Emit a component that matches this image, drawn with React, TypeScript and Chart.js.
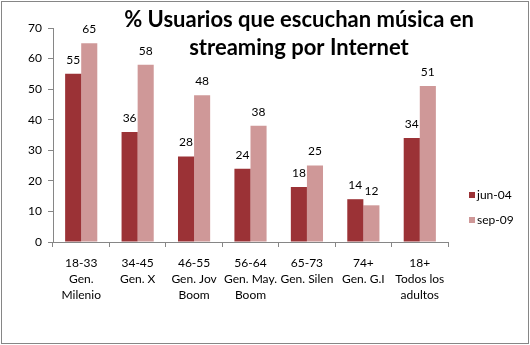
import React, { useEffect, useRef } from "react";
import { Chart, registerables } from "chart.js";

Chart.register(...registerables);

const categories: string[][] = [
  ["18-33", "Gen.", "Milenio"],
  ["34-45", "Gen. X"],
  ["46-55", "Gen. Jov", "Boom"],
  ["56-64", "Gen. May.", "Boom"],
  ["65-73", "Gen. Silen"],
  ["74+", "Gen. G.I"],
  ["18+", "Todos los", "adultos"],
];
const seriesNames = ["jun-04", "sep-09"];
const jun04 = [55, 36, 28, 24, 18, 14, 34];
const sep09 = [65, 58, 48, 38, 25, 12, 51];
const seriesColors = ["#9B3236", "#CF9898"];
const titleLines = ["% Usuarios que escuchan música en", "streaming por Internet"];
const yMin = 0;
const yMax = 70;
const yStep = 10;

const FONT = "Lato, 'Open Sans', sans-serif";

const valueLabels = {
  id: "valueLabels",
  afterDatasetsDraw(chart: any) {
    const ctx = chart.ctx;
    ctx.save();
    ctx.font = `12px ${FONT}`;
    ctx.fillStyle = "#000";
    ctx.textAlign = "center";
    ctx.textBaseline = "middle";
    chart.data.datasets.forEach((ds: any, i: number) => {
      const meta = chart.getDatasetMeta(i);
      meta.data.forEach((bar: any, j: number) => {
        ctx.fillText(String(ds.data[j]), bar.x, bar.y - 14);
      });
    });
    ctx.restore();
  },
};

const decorations = {
  id: "decorations",
  beforeDraw(chart: any) {
    const ctx = chart.ctx;
    ctx.save();
    ctx.fillStyle = "#fff";
    ctx.fillRect(0, 0, chart.width, chart.height);
    ctx.restore();
  },
  afterDraw(chart: any) {
    const ctx = chart.ctx;
    const area = chart.chartArea;
    ctx.save();
    ctx.strokeStyle = "#868686";
    ctx.lineWidth = 1;
    ctx.strokeRect(1.5, 1.5, chart.width - 3, chart.height - 3);
    ctx.font = `bold 22px ${FONT}`;
    ctx.fillStyle = "#000";
    ctx.textAlign = "center";
    ctx.textBaseline = "middle";
    titleLines.forEach((line, i) => {
      ctx.fillText(line, 299, 20 + i * 28);
    });
    ctx.font = `12px ${FONT}`;
    ctx.textAlign = "left";
    seriesNames.forEach((name, i) => {
      const y = 195 + i * 25;
      ctx.fillStyle = seriesColors[i];
      ctx.fillRect(area.right + 21, y - 3, 6, 6);
      ctx.fillStyle = "#000";
      ctx.fillText(name, area.right + 29, y);
    });
    ctx.restore();
  },
};

export default function App() {
  const ref = useRef<HTMLCanvasElement>(null);
  useEffect(() => {
    if (!ref.current) return;
    const chart = new Chart(ref.current, {
      type: "bar",
      data: {
        labels: categories,
        datasets: [
          { label: seriesNames[0], data: jun04, backgroundColor: seriesColors[0], barPercentage: 1, categoryPercentage: 0.57 },
          { label: seriesNames[1], data: sep09, backgroundColor: seriesColors[1], barPercentage: 1, categoryPercentage: 0.57 },
        ],
      },
      options: {
        responsive: false,
        animation: false,
        layout: { padding: { top: 28, right: 82, left: 0, bottom: 0 } },
        plugins: {
          legend: { display: false },
          title: { display: false },
          tooltip: { enabled: false },
        },
        scales: {
          x: {
            grid: { display: true, drawOnChartArea: false, drawTicks: true, tickLength: 5, color: "#868686", offset: true },
            border: { color: "#868686" },
            ticks: { font: { family: FONT, size: 12, lineHeight: 1.33 }, color: "#000", padding: 8, maxRotation: 0, autoSkip: false },
            afterFit: (s: any) => { s.height = 103; },
          },
          y: {
            min: yMin,
            max: yMax,
            grid: { display: true, drawOnChartArea: false, drawTicks: true, tickLength: 5, color: "#868686" },
            border: { color: "#868686" },
            ticks: { stepSize: yStep, font: { family: FONT, size: 12 }, color: "#000", padding: 6 },
            afterFit: (s: any) => { s.width = 53; },
          },
        },
      },
      plugins: [decorations, valueLabels],
    });
    return () => chart.destroy();
  }, []);
  return (
    <div style={{ position: "fixed", left: 0, top: 0, width: 530, height: 345, background: "#fff" }}>
      <canvas ref={ref} width={530} height={345} style={{ display: "block" }} />
    </div>
  );
}
